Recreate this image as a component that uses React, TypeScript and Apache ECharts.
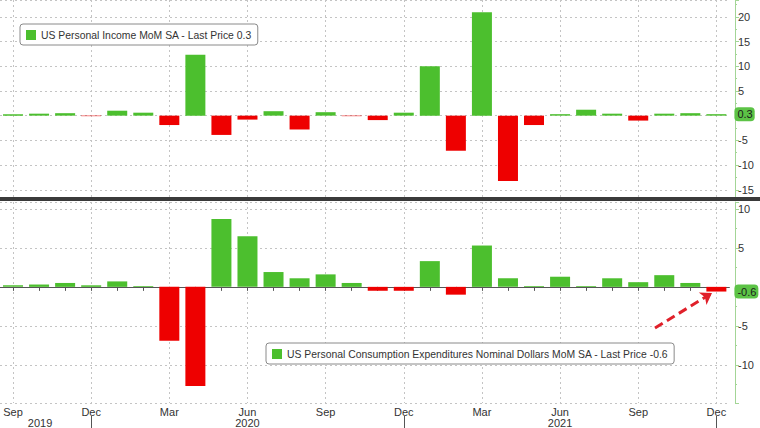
import React, { useEffect, useRef } from "react";
import * as echarts from "echarts";

const months: string[] = [
  "Sep 2019", "Oct 2019", "Nov 2019", "Dec 2019",
  "Jan 2020", "Feb 2020", "Mar 2020", "Apr 2020", "May 2020", "Jun 2020",
  "Jul 2020", "Aug 2020", "Sep 2020", "Oct 2020", "Nov 2020", "Dec 2020",
  "Jan 2021", "Feb 2021", "Mar 2021", "Apr 2021", "May 2021", "Jun 2021",
  "Jul 2021", "Aug 2021", "Sep 2021", "Oct 2021", "Nov 2021", "Dec 2021",
];

const incomeValues: number[] = [
  0.3, 0.4, 0.5, -0.1,
  1.0, 0.6, -1.9, 12.3, -3.9, -0.8,
  0.9, -2.8, 0.7, -0.1, -0.9, 0.6,
  10.0, -7.1, 20.9, -13.2, -1.9, 0.3,
  1.2, 0.4, -1.0, 0.4, 0.5, 0.3,
];

const pceValues: number[] = [
  0.2, 0.3, 0.5, 0.2,
  0.7, 0.1, -6.9, -12.7, 8.7, 6.5,
  1.9, 1.1, 1.6, 0.5, -0.5, -0.5,
  3.3, -1.0, 5.3, 1.1, 0.1, 1.3,
  0.1, 1.1, 0.6, 1.5, 0.5, -0.6,
];

const incomeName = "US Personal Income MoM SA - Last Price 0.3";
const pceName = "US Personal Consumption Expenditures Nominal Dollars MoM SA - Last Price -0.6";
const incomeLast = 0.3;
const pceLast = -0.6;
const yearLabels: Record<number, string> = { 1: "2019", 9: "2020", 21: "2021" };

const GREEN = "#4cbf2e";
const RED = "#ee0000";
const AXIS_GREEN = "#a3d596";
const GRID_COLOR = "#c4c4c4";
const TEXT = "#333333";
const FONT = "Liberation Sans";

export default function App() {
  const ref = useRef<HTMLDivElement>(null);

  useEffect(() => {
    if (!ref.current) return;
    const chart = echarts.init(ref.current, undefined, { renderer: "svg" });

    const barData = (vals: number[]) =>
      vals.map((v) => ({ value: v, itemStyle: { color: v < 0 ? RED : GREEN } }));

    const splitLineX = {
      show: true,
      interval: 2,
      alignWithLabel: true,
      lineStyle: { color: GRID_COLOR, type: [2, 3] as any, width: 1 },
    };

    const yCommon = (min: number, max: number, splitNumber: number, gridIndex: number) => ({
      type: "value" as const,
      gridIndex,
      position: "right" as const,
      offset: 5.6,
      min,
      max,
      splitNumber,
      axisLine: { show: true, lineStyle: { color: AXIS_GREEN, width: 1 } },
      axisTick: { show: true, length: 4, lineStyle: { color: AXIS_GREEN } },
      minorTick: { show: true, splitNumber: 2, length: 2, lineStyle: { color: AXIS_GREEN } },
      axisLabel: {
        color: TEXT,
        fontSize: 11,
        fontFamily: FONT,
        margin: 3,
        formatter: (v: number) =>
          Math.abs(v % 5) < 1e-9 && v !== 0 ? String(v) : "",
      },
      splitLine: { show: true, lineStyle: { color: GRID_COLOR, type: [2, 3] as any, width: 1 } },
    });

    const tagLabel = (text: string) => ({
      show: true,
      position: "end" as const,
      distance: 5,
      formatter: text,
      backgroundColor: "#5cc346",
      color: "#1b1b1b",
      fontSize: 11,
      fontFamily: FONT,
      padding: [2, 2, 1, 3],
      borderRadius: 4,
    });

    const hiddenLine = { color: "rgba(0,0,0,0)", width: 1 };

    chart.setOption({
      animation: false,
      backgroundColor: "#ffffff",
      textStyle: { fontFamily: FONT },
      grid: [
        { left: -7, top: 0, width: 736.4, height: 197, containLabel: false },
        { left: -7, top: 202, width: 736.4, height: 202, containLabel: false },
      ],
      legend: [
        {
          data: [incomeName],
          left: 20,
          top: 24,
          icon: "rect",
          itemWidth: 10,
          itemHeight: 10,
          backgroundColor: "#ffffff",
          borderColor: "#8a8a8a",
          borderWidth: 1,
          borderRadius: 3,
          padding: [6, 6, 5, 6],
          selectedMode: false,
          textStyle: { color: TEXT, fontSize: 10.4, fontFamily: FONT },
        },
        {
          data: [pceName],
          left: 266,
          top: 343,
          icon: "rect",
          itemWidth: 10,
          itemHeight: 10,
          backgroundColor: "#ffffff",
          borderColor: "#8a8a8a",
          borderWidth: 1,
          borderRadius: 3,
          padding: [6, 6, 5, 6],
          selectedMode: false,
          textStyle: { color: TEXT, fontSize: 10.4, fontFamily: FONT },
        },
      ],
      xAxis: [
        {
          type: "category",
          gridIndex: 0,
          data: months,
          axisLine: { show: false },
          axisTick: { show: false },
          axisLabel: { show: false },
          splitLine: splitLineX,
        },
        {
          type: "category",
          gridIndex: 1,
          data: months,
          axisLine: { show: true, lineStyle: { color: "#555555" } },
          axisTick: { show: true, alignWithLabel: true, interval: 0, length: 4, lineStyle: { color: "#555555" } },
          axisLabel: {
            interval: 2,
            color: TEXT,
            fontSize: 11,
            fontFamily: FONT,
            margin: 3,
            formatter: (v: string) => v.split(" ")[0],
          },
          splitLine: splitLineX,
        },
        {
          type: "category",
          gridIndex: 1,
          data: months,
          position: "bottom",
          offset: 13,
          axisLine: { show: false },
          axisTick: {
            show: true,
            alignWithLabel: true,
            interval: (i: number) => months[i].startsWith("Dec"),
            length: 12,
            lineStyle: { color: "#555555" },
          },
          axisLabel: {
            interval: (i: number) => yearLabels[i] !== undefined,
            formatter: (v: string, i: number) =>
              i === 1 ? "{s|" + yearLabels[i] + "}" : yearLabels[i] || "",
            rich: { s: { padding: [0, 0, 0, 2], fontSize: 11, color: TEXT, fontFamily: FONT } },
            color: TEXT,
            fontSize: 11,
            fontFamily: FONT,
            margin: 1,
          },
          splitLine: { show: false },
        },
      ],
      yAxis: [
        yCommon(-16.46, 23.4, 8, 0),
        yCommon(-14.89, 10.88, 5, 1),
      ],
      series: [
        {
          name: incomeName,
          type: "bar",
          xAxisIndex: 0,
          yAxisIndex: 0,
          barWidth: 20,
          itemStyle: { color: GREEN },
          data: barData(incomeValues),
          markLine: {
            silent: true,
            symbol: ["none", "none"],
            data: [{ yAxis: incomeLast, lineStyle: hiddenLine, label: tagLabel(String(incomeLast)) }],
          },
        },
        {
          name: pceName,
          type: "bar",
          xAxisIndex: 1,
          yAxisIndex: 1,
          barWidth: 20,
          itemStyle: { color: GREEN },
          data: barData(pceValues),
          markLine: {
            silent: true,
            symbol: ["none", "none"],
            data: [
              { yAxis: pceLast, lineStyle: hiddenLine, label: tagLabel(String(pceLast)) },
              [
                {
                  x: 655,
                  y: 328,
                  symbol: "none",
                  lineStyle: { color: "#e0202a", width: 3, type: [9, 5] as any, opacity: 1 },
                  label: { show: false },
                },
                { x: 712, y: 293, symbol: "arrow", symbolSize: 11 },
              ],
            ],
          },
        },
      ],
      graphic: [
        {
          type: "rect",
          left: 0,
          top: 197,
          shape: { width: 760, height: 4 },
          style: { fill: "#3a3a3a" },
          z: 100,
        },
      ],
    });

    return () => chart.dispose();
  }, []);

  return (
    <div
      ref={ref}
      style={{ position: "fixed", left: 0, top: 0, width: 760, height: 428, background: "#fff" }}
    />
  );
}
